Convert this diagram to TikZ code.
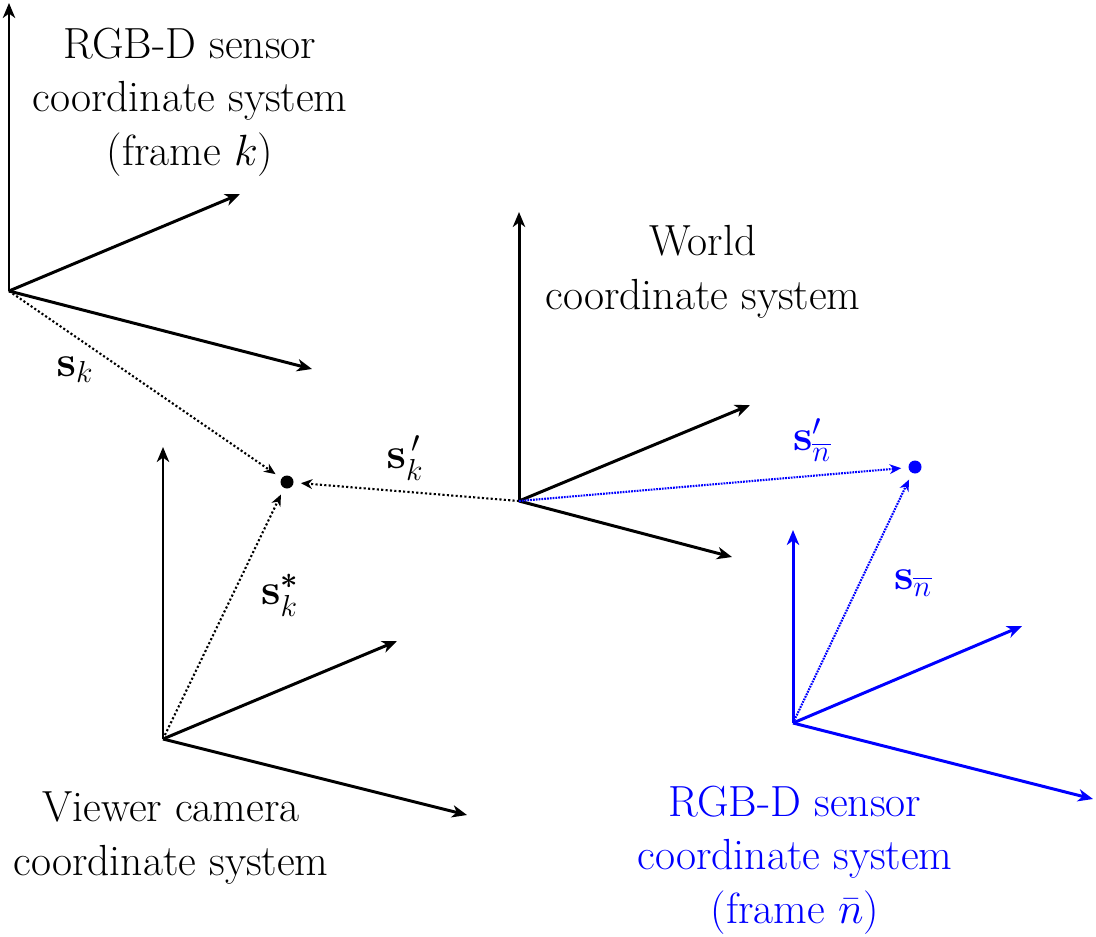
\documentclass[tikz,border=0pt]{standalone}
\usepackage{amsmath,amssymb}
\usetikzlibrary{arrows.meta}

\begin{document}
\begin{tikzpicture}[>={Stealth[length=8.5pt,width=7pt,inset=2.5pt]},
  frameaxis/.style={->,line width=1.7pt},
  vecdot/.style={-{Stealth[length=6.5pt,width=5.5pt,inset=2pt]},line width=1.2pt,dash pattern=on 1.2pt off 1.3pt,shorten >=4pt},
  bluedot/.style={vecdot,blue,dash pattern=on 1pt off 0.6pt},
  ptdot/.style={circle,fill,inner sep=0pt,minimum size=0.26cm},
  txt/.style={font=\fontsize{24.8pt}{30.5pt}\selectfont,align=center}]
  \useasboundingbox (0,0) rectangle (21.92,18.72);
  % RGB-D sensor, frame k (top left)
  \coordinate (Ok) at (0.18,12.90);
  \draw[frameaxis] (Ok) -- ++(0,5.76);
  \draw[frameaxis] (Ok) -- ++(4.62,1.94);
  \draw[frameaxis] (Ok) -- ++(6.06,-1.56);
  \node[txt] (labk) at (3.80,16.68) {RGB-D sensor\\coordinate system\\(frame $k$)};
  % World coordinate system
  \coordinate (Ow) at (10.38,8.70);
  \draw[frameaxis] (Ow) -- ++(0,5.78);
  \draw[frameaxis] (Ow) -- ++(4.62,1.92);
  \draw[frameaxis] (Ow) -- ++(4.26,-1.12);
  \node[txt] (labw) at (14.06,13.28) {World\\coordinate system};
  % Viewer camera (bottom left)
  \coordinate (Ov) at (3.26,3.94);
  \draw[frameaxis] (Ov) -- ++(0,5.84);
  \draw[frameaxis] (Ov) -- ++(4.68,1.96);
  \draw[frameaxis] (Ov) -- ++(6.08,-1.52);
  \node[txt] (labv) at (3.42,1.96) {Viewer camera\\coordinate system};
  % RGB-D sensor, frame n (bottom right, blue)
  \coordinate (On) at (15.86,4.26);
  \draw[frameaxis,blue] (On) -- ++(0,3.86);
  \draw[frameaxis,blue] (On) -- ++(4.58,1.94);
  \draw[frameaxis,blue] (On) -- ++(6.00,-1.52);
  \node[txt,blue] (labn) at (15.90,1.52) {RGB-D sensor\\coordinate system\\(frame $\bar{n}$)};
  % the two points and the vectors to them
  \node[ptdot] (pk) at (5.74,9.08) {};
  \node[ptdot,blue] (pn) at (18.30,9.38) {};
  \draw[vecdot] (Ok) -- (pk);
  \draw[vecdot] (Ow) -- (pk);
  \draw[vecdot] (Ov) -- (pk);
  \draw[bluedot] (Ow) -- (pn);
  \draw[bluedot] (On) -- (pn);
  \node[txt] (sk) at (1.50,11.32) {$\mathbf{s}_k$};
  \node[txt] (skp) at (8.10,9.56) {$\mathbf{s}^{\,\prime}_k$};
  \node[txt] (sks) at (5.60,6.82) {$\mathbf{s}^{\boldsymbol{*}}_k$};
  \node[txt,blue] (snp) at (16.24,9.92) {$\mathbf{s}'_{\overline{n}}$};
  \node[txt,blue] (sn) at (18.26,7.06) {$\mathbf{s}_{\overline{n}}$};
\end{tikzpicture}
\end{document}
